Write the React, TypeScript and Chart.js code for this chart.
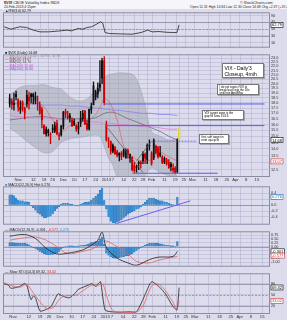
import React, { useEffect, useRef } from "react";
import { Chart, registerables } from "chart.js";

Chart.register(...registerables);

const W = 287;
const BG = "#dcdcec";
const GRID = "rgba(165,165,200,0.6)";
const FONT = "'Liberation Sans', Arial, sans-serif";

// ---------- calendar (trading days) ----------
const HOLIDAYS = ["2012-10-29", "2012-10-30", "2012-11-22", "2012-12-25", "2013-01-01", "2013-01-21", "2013-02-18", "2013-03-29"];
const MONTHS = ["2013", "Feb", "Mar", "Apr", "May", "Jun", "Jul", "Aug", "Sep", "Oct", "Nov", "Dec"];

function tradingDays(): Date[] {
  const out: Date[] = [];
  const d = new Date(Date.UTC(2012, 9, 24));
  const end = Date.UTC(2013, 3, 18);
  while (d.getTime() <= end) {
    const wd = d.getUTCDay();
    const iso = d.toISOString().slice(0, 10);
    if (wd !== 0 && wd !== 6 && !HOLIDAYS.includes(iso)) out.push(new Date(d.getTime()));
    d.setUTCDate(d.getUTCDate() + 1);
  }
  return out;
}
const DAYS = tradingDays();
const N = DAYS.length;
const monthIdx: number[] = [];
DAYS.forEach((d, i) => { if (i > 0 && d.getUTCMonth() !== DAYS[i - 1].getUTCMonth()) monthIdx.push(i); });
const TICK_MAP: Record<number, string> = {};
DAYS.forEach((d, i) => {
  if (monthIdx.includes(i)) TICK_MAP[i] = MONTHS[d.getUTCMonth()];
  else if (i > 0 && d.getUTCDay() < DAYS[i - 1].getUTCDay() && !monthIdx.some((m) => Math.abs(m - i) <= 2)) TICK_MAP[i] = String(d.getUTCDate());
});
const TICK_IDX = Object.keys(TICK_MAP).map(Number);

// ---------- price data ($VIX daily) ----------
const OPEN = [17.9,18.2,18.0,18.9,18.3,17.3,18.1,17.5,17.9,18.2,18.9,18.9,18.2,17.9,17.8,17.4,15.9,15.6,15.5,15.2,15.7,15.4,16.1,15.1,15.1,15.8,17.2,16.8,16.8,16.4,16.3,15.9,15.6,16.1,16.5,17.2,16.1,15.6,17.3,19.8,18.6,18.9,19.6,20.6,22.7,16.0,14.6,14.6,14.3,14.1,13.8,13.7,13.7,13.9,13.3,13.9,13.3,13.4,12.8,12.6,12.9,13.0,13.1,13.6,13.2,14.2,13.7,13.3,14.2,14.1,13.7,13.4,13.3,13.2,13.0,12.9,12.6,12.6,12.3];
const HIGH = [18.9,18.4,19.0,19.2,18.4,18.2,18.2,17.6,19.3,19.1,19.0,19.0,19.1,18.7,18.1,17.6,16.0,15.8,15.6,15.3,16.0,16.2,16.4,15.3,15.9,17.2,17.4,17.2,17.0,16.6,16.5,16.0,16.2,17.2,17.3,17.3,16.4,17.4,18.0,20.2,19.3,20.1,22.7,23.0,23.2,16.3,14.9,14.6,14.4,14.2,13.9,13.7,13.8,14.0,14.0,14.0,13.6,13.4,13.0,12.8,13.1,13.1,13.8,13.7,14.4,14.7,13.8,14.8,14.3,14.2,14.2,13.5,13.4,13.3,13.2,13.0,12.9,12.7,14.8];
const LOW = [17.6,17.4,17.3,18.3,17.2,17.0,17.2,16.5,17.6,17.4,18.0,17.9,17.9,17.3,16.9,15.7,15.2,15.0,15.0,14.4,15.3,15.3,15.1,14.7,15.0,15.6,16.6,16.5,16.2,15.8,15.9,15.4,15.2,15.8,16.3,16.0,15.5,15.5,17.0,17.8,18.3,18.5,19.2,20.0,17.8,14.6,14.1,13.6,13.7,13.6,13.4,13.1,13.2,13.4,13.3,13.3,13.0,12.4,12.3,12.3,12.5,12.6,12.9,12.9,12.9,13.9,12.8,13.2,13.6,13.3,13.4,12.9,12.9,12.8,12.6,12.4,12.3,12.2,12.3];
const CLOSE = [18.5,17.8,17.8,18.6,17.6,17.6,17.4,17.0,18.8,18.6,18.6,18.6,18.7,17.9,17.0,16.4,15.2,15.2,15.3,15.1,15.5,15.9,15.2,15.0,15.9,17.1,16.9,16.6,16.6,15.9,16.0,15.6,15.9,16.6,17.0,16.0,15.6,17.4,17.7,17.8,19.1,19.5,20.0,22.7,18.0,14.7,14.6,13.8,13.8,13.6,13.5,13.5,13.4,13.5,13.9,13.6,13.6,12.5,12.4,12.7,13.0,12.9,13.6,13.3,14.3,14.3,12.9,14.7,13.7,13.4,13.5,13.0,13.0,12.9,12.6,12.7,12.5,12.3,14.7];

// overlays (read at sample days)
const OV_X = [0,4,8,12,16,20,24,28,32,36,40,42,44,46,48,50,54,58,62,66,70,74,78];
const BB_UP = [18.8,19.5,19.8,19.8,19.9,19.6,19.4,18.6,18.2,18.4,19.4,20.2,20.7,21.0,21.1,21.2,21.2,20.9,18.6,15.4,15.0,14.7,14.8];
const BB_LO = [15.7,15.2,14.6,14.1,13.7,13.8,14.5,14.8,14.9,15.0,15.1,15.0,14.2,13.3,12.8,12.0,11.4,11.4,11.9,12.6,12.3,12.1,12.1];
const MA10 = [17.8,18.0,17.8,18.1,17.6,16.4,15.4,15.9,16.2,16.3,16.9,17.6,18.4,18.2,17.4,16.4,13.8,13.3,13.1,13.2,13.7,13.4,13.1];
const MA50 = [16.4,16.5,16.6,16.7,16.7,16.6,16.5,16.5,16.5,16.5,16.6,16.8,17.0,17.1,17.1,17.0,16.6,16.3,16.0,15.7,15.4,15.0,14.7];
const MA100 = [16.8,16.7,16.7,16.6,16.6,16.5,16.5,16.4,16.4,16.3,16.2,16.2,16.1,16.1,16.1,16.0,16.0,15.9,15.8,15.8,15.7,15.6,15.6];
const MA200 = [17.9,17.9,17.9,17.9,17.8,17.8,17.8,17.7,17.7,17.6,17.5,17.5,17.4,17.4,17.3,17.3,17.2,17.1,17.0,17.0,16.9,16.9,16.8];
const Y2_TICKS = [12.5,13,13.5,14,14.5,15,15.5,16,16.5,17,17.5,18,18.5,19,19.5,20,20.5,21,21.5,22,22.5,23];

// RSI
const RSI_X = [0,3,7,10,13,16,20,25,28,30,33,35,37,39,41,43,44,45,47,52,57,61,64,66,69,72,75,77,78];
const RSI_V = [57,50,57,55,47,42,42,45,47,45,52,50,55,57,64,72,67,40,37,36,35,40,47,42,43,41,40,40,62.8];

// MACD histogram (panel 3)
const HIST3 = [0.34,0.34,0.31,0.23,0.17,0.14,0.14,0.11,0.11,0.09,-0.03,-0.09,-0.17,-0.26,-0.31,-0.37,-0.43,-0.43,-0.40,-0.37,-0.29,-0.20,-0.11,-0.06,0.03,0.06,0.06,0.06,0.03,0.03,0.01,-0.03,-0.03,0.03,0.06,0.09,0.09,0.11,0.17,0.23,0.29,0.37,0.49,0.57,0.15,-0.14,-0.40,-0.54,-0.60,-0.60,-0.57,-0.54,-0.49,-0.43,-0.37,-0.31,-0.26,-0.23,-0.20,-0.14,-0.11,-0.06,0.03,0.09,0.17,0.23,0.23,0.23,0.20,0.17,0.14,0.14,0.11,0.09,0.06,0.03,0.02,-0.02,0.26];

// MACD lines (panel 4)
const MACD_X = [0,7,12,17,22,27,34,38,41,43,45,50,55,59,65,69,76,78];
const MACD_V = [0.68,0.79,0.53,-0.1,-0.47,-0.42,-0.21,0.1,0.42,0.95,-0.05,-0.74,-1.05,-1.2,-0.84,-0.68,-0.63,-0.30];
const SIG_V = [0.42,0.58,0.63,0.42,0,-0.45,-0.30,-0.16,0.05,0.32,0.37,0,-0.47,-0.95,-1.05,-0.89,-0.68,-0.63];
const HIST4 = [0.26,0.26,0.25,0.24,0.23,0.22,0.22,0.21,0.18,0.12,0.03,-0.05,-0.12,-0.2,-0.3,-0.38,-0.45,-0.5,-0.52,-0.52,-0.5,-0.47,-0.4,-0.3,-0.15,-0.05,0.02,0.04,0.05,0.05,0.04,0.03,0.05,0.07,0.09,0.11,0.14,0.19,0.26,0.3,0.33,0.37,0.5,0.63,0.15,-0.42,-0.55,-0.65,-0.72,-0.75,-0.74,-0.72,-0.68,-0.64,-0.6,-0.58,-0.52,-0.45,-0.35,-0.25,-0.15,-0.06,0.03,0.1,0.16,0.21,0.23,0.23,0.22,0.21,0.18,0.15,0.12,0.09,0.07,0.05,0.05,0.02,0.33];

// Slow stochastics
const STK_X = [0,2,3,7,9,10,12,13,14,16,19,21,24,26,29,32,33,38,39,41,42,43,45,48,52,56,59,63,65,66,69,72,75,77,78];
const STK_V = [80,75,67,72,80,77,36,46,41,5,10,18,52,46,41,56,64,77,80,72,80,85,8,3,2,3,3,52,80,85,72,51,20,8,69];
const STD_X = [0,3,7,10,13,16,19,22,25,28,32,35,39,42,44,46,48,50,59,62,64,66,69,72,75,77,78];
const STD_V = [82,75,70,77,55,30,12,15,40,47,48,60,75,76,78,40,10,3,3,20,50,75,78,60,32,12,33];

// ---------- helpers ----------
const decoPlugin = {
  id: "deco",
  beforeDraw(chart: any) {
    const { ctx, width, height } = chart;
    ctx.save();
    ctx.fillStyle = BG;
    ctx.fillRect(0, 0, width, height);
    ctx.restore();
  },
  beforeDatasetsDraw(chart: any, _a: any, o: any) {
    const { ctx, chartArea: a, scales } = chart;
    ctx.save();
    for (const l of (o && o.hlines) || []) {
      const y = Math.round(scales.y.getPixelForValue(l.v)) + 0.5;
      ctx.strokeStyle = l.c || "#8a8aa2";
      ctx.lineWidth = 0.8;
      ctx.setLineDash(l.dash ? [2, 1.5] : []);
      ctx.beginPath();
      ctx.moveTo(a.left, y);
      ctx.lineTo(a.right, y);
      ctx.stroke();
    }
    ctx.restore();
  },
  afterDraw(chart: any, _a: any, o: any) {
    const { ctx, chartArea: a, scales } = chart;
    ctx.save();
    ctx.strokeStyle = "#8c8ca4";
    ctx.lineWidth = 1;
    ctx.setLineDash([]);
    ctx.strokeRect(a.left + 0.5, a.top + 0.5, a.right - a.left - 1, a.bottom - a.top - 1);
    ctx.font = `4px ${FONT}`;
    ctx.textBaseline = "middle";
    for (const t of (o && o.tags) || []) {
      const y = scales.y.getPixelForValue(t.v);
      const w = ctx.measureText(t.text).width + 2;
      ctx.fillStyle = "#fff";
      ctx.fillRect(a.right + 1, y - 2.5, w, 5);
      ctx.strokeStyle = t.c;
      ctx.lineWidth = 0.6;
      ctx.strokeRect(a.right + 1, y - 2.5, w, 5);
      ctx.fillStyle = t.c;
      ctx.fillText(t.text, a.right + 2, y + 0.3);
    }
    ctx.restore();
  },
};
Chart.register(decoPlugin);

const xScale = (labels: boolean) => ({
  type: "linear",
  min: -0.5,
  max: N - 0.5,
  afterBuildTicks: (s: any) => { s.ticks = TICK_IDX.map((v) => ({ value: v })); },
  afterFit: (s: any) => { s.height = labels ? 6 : 0; },
  ticks: {
    display: labels, autoSkip: false, maxRotation: 0, padding: 0.5, color: "#333",
    font: { size: 4.2, family: FONT },
    callback: (v: any) => TICK_MAP[v] ?? "",
  },
  grid: { color: GRID, lineWidth: 0.7, drawTicks: false },
  border: { display: false },
});

const yScale = (type: string, min: number, max: number, vals: number[], fmt: (v: number) => string) => ({
  type, position: "right", min, max,
  afterBuildTicks: (s: any) => { s.ticks = vals.map((v) => ({ value: v })); },
  afterFit: (s: any) => { s.width = 17; },
  ticks: { autoSkip: false, padding: 1, color: "#333", font: { size: 3.8, family: FONT }, callback: (v: any) => fmt(Number(v)) },
  grid: { color: GRID, lineWidth: 0.7, drawTicks: false },
  border: { display: false },
});

const opts = (labels: boolean, y: any, deco: any) => ({
  responsive: false,
  animation: false,
  devicePixelRatio: 1,
  events: [],
  layout: { padding: { left: 3, right: 0, top: 0, bottom: 0 } },
  plugins: { legend: { display: false }, tooltip: { enabled: false }, deco },
  scales: { x: xScale(labels), y },
});

const line = (xs: number[], vs: number[], color: string, width = 0.8, extra: any = {}) => ({
  type: "line",
  data: xs.map((x, i) => ({ x, y: vs[i] })),
  borderColor: color,
  backgroundColor: color,
  borderWidth: width,
  pointRadius: 0,
  tension: 0,
  fill: false,
  ...extra,
});

const COLOR = CLOSE.map((c, i) => (c >= (i ? CLOSE[i - 1] : OPEN[i]) ? "#111111" : "#d40000"));
const FILL = CLOSE.map((c, i) => (c < OPEN[i] ? COLOR[i] : "rgba(0,0,0,0)"));

const cfgRSI = () => ({
  type: "line",
  data: { datasets: [line(RSI_X, RSI_V, "#222", 0.8)] },
  options: opts(false, yScale("linear", -5, 100, [10, 30, 50, 70, 90], (v) => String(v)), {
    hlines: [{ v: 70 }, { v: 30 }, { v: 50, dash: true }],
    tags: [{ v: 62.79, text: "62.79", c: "#000" }],
  }),
});

const cfgPrice = () => ({
  type: "bar",
  data: {
    datasets: [
      line(OV_X, BB_UP, "#a2a6b4", 0.6, { fill: "+1", backgroundColor: "rgba(160,164,176,0.5)", tension: 0.35, order: 20 }),
      line(OV_X, BB_LO, "#a2a6b4", 0.6, { tension: 0.35, order: 21 }),
      line(OV_X, MA200, "#8a7ff0", 0.8, { tension: 0.3, order: 10 }),
      line(OV_X, MA100, "#e27ad8", 0.8, { tension: 0.3, order: 10 }),
      line(OV_X, MA50, "#6e6e78", 0.8, { tension: 0.3, order: 10 }),
      line(OV_X, MA10, "#e06464", 0.7, { tension: 0.35, order: 9 }),
      {
        type: "bar", grouped: false, order: 4, barThickness: 0.7,
        data: LOW.map((l, i) => ({ x: i, y: [l, HIGH[i]] })),
        backgroundColor: COLOR,
      },
      {
        type: "bar", grouped: false, order: 3, barThickness: 1.5, minBarLength: 0.6,
        data: OPEN.map((o, i) => ({ x: i, y: [o, CLOSE[i]] })),
        backgroundColor: FILL, borderColor: COLOR, borderWidth: 0.5, borderSkipped: false,
      },
      {
        type: "bar", grouped: false, order: 1, barThickness: 1.6,
        data: [{ x: 78.9, y: [14.8, 15.65] }],
        backgroundColor: "#f2e22a", borderColor: "#c8b400", borderWidth: 0.3, borderSkipped: false,
      },
      line([44, 118.5], [17.9, 17.9], "#5a5af0", 1, { order: 2 }),
      line([45, 118.5], [15.9, 15.9], "#5a5af0", 1, { order: 2 }),
      line([57, 96.8], [12.25, 12.25], "#5a5af0", 1, { order: 2 }),
      line([45.5, 62], [15.7, 12.3], "#555", 0.7, { order: 2 }),
      line([59, 66], [13.1, 14.6], "#555", 0.7, { order: 2 }),
      line([66, 87], [14.6, 14.6], "#5a5af0", 0.8, { order: 2, borderDash: [2, 1] }),
    ],
  },
  options: opts(true, yScale("logarithmic", 12, 23.5, Y2_TICKS, (v) => v.toFixed(1)), {
    tags: [{ v: 14.68, text: "14.68", c: "#000" }, { v: 13.07, text: "13.07", c: "#d03030" }],
  }),
});

const cfgHist = () => ({
  type: "bar",
  data: {
    datasets: [
      { type: "bar", barThickness: 1.6, data: HIST3.map((v, i) => ({ x: i, y: v })), backgroundColor: "#3a8fd4", borderColor: "#1f6aa8", borderWidth: 0.3, order: 3 },
      line([49, 84], [-0.63, 0.14], "#6a5cf0", 1, { order: 1 }),
    ],
  },
  options: opts(false, yScale("linear", -0.66, 0.63, [-0.4, -0.2, 0, 0.2, 0.4], (v) => v.toFixed(1)), {
    hlines: [{ v: 0 }],
    tags: [{ v: 0.276, text: "0.276", c: "#1f6aa8" }],
  }),
});

const cfgMACD = () => ({
  type: "bar",
  data: {
    datasets: [
      { type: "bar", barThickness: 1.6, data: HIST4.map((v, i) => ({ x: i, y: v })), backgroundColor: "#3a8fd4", borderColor: "#1f6aa8", borderWidth: 0.3, order: 5 },
      line(MACD_X, SIG_V, "#e06464", 0.8, { tension: 0.35, order: 2 }),
      line(MACD_X, MACD_V, "#222", 0.8, { tension: 0.35, order: 1 }),
    ],
  },
  options: opts(false, yScale("linear", -1.3, 1.0, [-1, -0.75, -0.5, -0.25, 0, 0.25, 0.5, 0.75], (v) => v.toFixed(2)), {
    hlines: [{ v: 0 }],
    tags: [{ v: -0.301, text: "-0.301", c: "#000" }, { v: -0.577, text: "-0.577", c: "#d03030" }],
  }),
});

const cfgSTO = () => ({
  type: "line",
  data: {
    datasets: [
      line(STD_X, STD_V, "#e06464", 0.8, { tension: 0.3 }),
      line(STK_X, STK_V, "#222", 0.8, { tension: 0.2 }),
    ],
  },
  options: opts(true, yScale("linear", -3, 108, [20, 50, 80], (v) => String(v)), {
    hlines: [{ v: 80 }, { v: 20 }, { v: 50, dash: true }],
    tags: [{ v: 69.32, text: "69.32", c: "#000" }, { v: 33, text: "33.02", c: "#d03030" }],
  }),
});

function Panel({ top, height, cfg }: { top: number; height: number; cfg: () => any }) {
  const ref = useRef<HTMLCanvasElement>(null);
  useEffect(() => {
    const ch = new Chart(ref.current as HTMLCanvasElement, cfg() as any);
    return () => ch.destroy();
  }, []);
  return (
    <canvas
      ref={ref}
      width={W}
      height={height}
      style={{ position: "absolute", left: 0, top, width: W, height, display: "block" }}
    />
  );
}

const abs = (left: number, top: number, extra: any = {}): React.CSSProperties => ({
  position: "absolute", left, top, whiteSpace: "nowrap", ...extra,
});

const boxStyle = (left: number, top: number, width: number, height: number, fs: number, lh: number): React.CSSProperties => ({
  position: "absolute", left, top, width, height, boxSizing: "border-box",
  background: "#fff", border: "0.6px solid #777", boxShadow: "1px 1px 0 rgba(0,0,0,0.25)",
  fontSize: fs, lineHeight: `${lh}px`, padding: "1px 1.5px", whiteSpace: "nowrap", color: "#000", overflow: "hidden",
});

export default function App() {
  const small: React.CSSProperties = { fontSize: 3.6, lineHeight: "3.3px" };
  return (
    <div style={{ position: "fixed", left: 0, top: 0, width: W, height: 320, overflow: "hidden", background: "#f6f6fa", fontFamily: FONT, color: "#222" }}>
      <div style={abs(4, 0.5, { fontSize: 3.8 })}><b>$VIX</b> CBOE Volatility Index  INDX</div>
      <div style={abs(240, 0.5, { fontSize: 3.8 })}>© StockCharts.com</div>
      <div style={abs(4, 4.5, { fontSize: 3.4 })}>20-Feb-2013 4:15pm</div>
      <div style={abs(190, 4.5, { fontSize: 3.4 })}>Open 12.31 High 14.84 Low 12.30 Close 14.68 Chg +2.37 (+19.25%) ▲</div>

      <Panel top={9} height={42} cfg={cfgRSI} />
      <Panel top={51} height={132} cfg={cfgPrice} />
      <Panel top={183} height={45} cfg={cfgHist} />
      <Panel top={228} height={42} cfg={cfgMACD} />
      <Panel top={270} height={50} cfg={cfgSTO} />

      <div style={abs(5, 9.5, small)}>▲RSI(14) 62.79</div>

      <div style={abs(5, 51.5, small)}>
        <div>■ $VIX (Daily) 14.68</div>
        <div style={{ color: "#888" }}>— BB(20,2.0) 13.42 - 14.93 - 11.91</div>
        <div style={{ color: "#d03030" }}>— MA(10) 13.07</div>
        <div style={{ color: "#555" }}>— MA(50) 14.70</div>
        <div style={{ color: "#d050c8" }}>— MA(100) 15.60</div>
        <div style={{ color: "#6a60e0" }}>— MA(200) 16.80</div>
      </div>

      <div style={boxStyle(222, 63, 42, 15, 5, 6)}>VIX - Daily'3<br />Closeup, 4mth</div>
      <div style={boxStyle(217, 84, 42, 11, 2.9, 3.1)}>I do not expect VIX to<br />break back into the 20s<br />until late April/May</div>
      <div style={boxStyle(202, 110, 42, 10, 3, 3.4)}>VIX target zone is the<br />gap fill area 15/16</div>
      <div style={boxStyle(199, 134, 30, 10, 3, 3.4)}>first soft target in<br />next up-cycle</div>

      <div style={abs(5, 184, small)}><span style={{ color: "#3a8fd4" }}>■</span> MACD(12,26,9) Hist 0.276</div>
      <div style={abs(5, 229, small)}>— MACD(12,26,9) -0.301, <span style={{ color: "#d03030" }}>-0.577</span>, <span style={{ color: "#3a8fd4" }}>0.276</span></div>
      <div style={abs(5, 271, small)}>— Slow STO(14,3) 69.32, <span style={{ color: "#d03030" }}>33.02</span></div>
    </div>
  );
}
